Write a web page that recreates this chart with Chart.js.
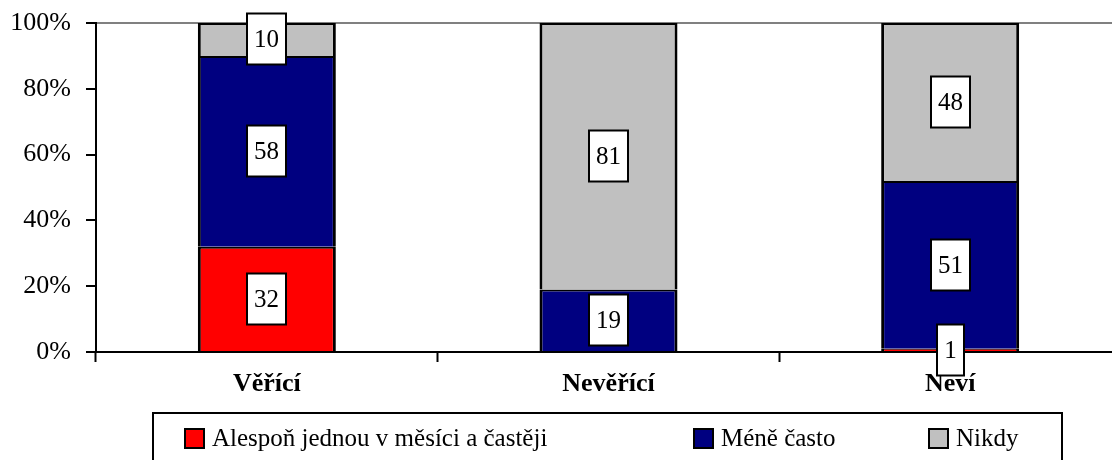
<!DOCTYPE html>
<html>
<head>
<meta charset="utf-8">
<script src="https://cdn.jsdelivr.net/npm/chart.js@4.4.1/dist/chart.umd.min.js"></script>
<style>
  html, body { margin: 0; padding: 0; background: #fff; overflow: hidden; }
  #wrap { width: 1125px; height: 460px; position: relative; }
</style>
</head>
<body>
<div id="wrap"><canvas id="chart"></canvas></div>
<script>
// kategorie a hodnoty (v %)
const categories = ['Věřící', 'Nevěřící', 'Neví'];
const seriesNames = ['Alespoň jednou v měsíci a častěji', 'Méně často', 'Nikdy'];
const alesponJednou = [32, 0, 1];
const meneCasto = [58, 19, 51];
const nikdy = [10, 81, 48];
const yTicks = [0, 20, 40, 60, 80, 100];

const colors = ['#FF0000', '#000080', '#C0C0C0'];
const serif = '"Liberation Serif", "Times New Roman", serif';

// umístění legendy (levý okraj značky každé položky)
const legendItemX = [185, 694, 929];

// popisky hodnot v bílých rámečcích + rámeček legendy
const labelPlugin = {
    id: 'labelBoxes',
    afterDraw(chart) {
        const ctx = chart.ctx;
        ctx.save();
        ctx.font = '25px ' + serif;
        ctx.textAlign = 'center';
        ctx.textBaseline = 'middle';
        chart.data.datasets.forEach((ds, i) => {
            const meta = chart.getDatasetMeta(i);
            meta.data.forEach((bar, j) => {
                const v = ds.data[j];
                if (!v) return;
                const cy = Math.round((bar.y + bar.base) / 2);
                const txt = String(v);
                const w = Math.round(ctx.measureText(txt).width + 14);
                const h = 51;
                const x0 = Math.round(bar.x - w / 2);
                ctx.fillStyle = '#fff';
                ctx.fillRect(x0, cy - h / 2, w, h);
                ctx.lineWidth = 2;
                ctx.strokeStyle = '#000';
                ctx.strokeRect(x0, cy - h / 2, w, h);
                ctx.fillStyle = '#000';
                ctx.fillText(txt, x0 + w / 2, cy + 1);
            });
        });

        // legenda
        ctx.lineWidth = 2;
        ctx.strokeStyle = '#000';
        ctx.strokeRect(153, 413, 909, 60);
        ctx.textAlign = 'left';
        chart.data.datasets.forEach((ds, i) => {
            const x = legendItemX[i];
            ctx.fillStyle = ds.backgroundColor;
            ctx.fillRect(x, 429, 19, 19);
            ctx.strokeRect(x, 429, 19, 19);
            ctx.fillStyle = '#000';
            ctx.fillText(ds.label, x + 27, 439);
        });
        ctx.restore();
    }
};

new Chart(document.getElementById('chart'), {
    type: 'bar',
    data: {
        labels: categories,
        datasets: [alesponJednou, meneCasto, nikdy].map((d, i) => ({
            label: seriesNames[i],
            data: d,
            backgroundColor: colors[i],
            borderColor: '#000',
            borderWidth: { top: 2, left: 3, right: 3, bottom: 0 },
            borderSkipped: 'start',
            categoryPercentage: 1,
            barPercentage: 0.404
        }))
    },
    options: {
        responsive: true,
        maintainAspectRatio: false,
        animation: false,
        layout: { padding: { top: 23, bottom: 58, left: 0, right: 4 } },
        plugins: {
            legend: { display: false },
            tooltip: { enabled: false }
        },
        scales: {
            x: {
                stacked: true,
                offset: true,
                grid: {
                    offset: true,
                    drawOnChartArea: false,
                    tickLength: 10,
                    tickColor: '#000',
                    tickWidth: 2
                },
                border: { color: '#000', width: 2 },
                ticks: {
                    color: '#000',
                    padding: 7,
                    font: { family: serif, size: 26, weight: 'bold' }
                },
                afterFit(scale) { scale.height = 50; }
            },
            y: {
                stacked: true,
                min: 0,
                max: 100,
                afterBuildTicks(scale) { scale.ticks = yTicks.map(v => ({ value: v })); },
                grid: {
                    color: c => (c.tick && c.tick.value === 100 ? '#808080' : 'rgba(0,0,0,0)'),
                    lineWidth: 2,
                    tickLength: 10,
                    tickColor: '#000',
                    tickWidth: 2
                },
                border: { color: '#000', width: 2 },
                ticks: {
                    color: '#000',
                    padding: 15,
                    font: { family: serif, size: 26 },
                    callback: v => v + '%'
                },
                afterFit(scale) {
                    scale.width = 96;
                    scale.paddingTop = 0;
                    scale.paddingBottom = 0;
                }
            }
        }
    },
    plugins: [labelPlugin]
});
</script>
</body>
</html>
